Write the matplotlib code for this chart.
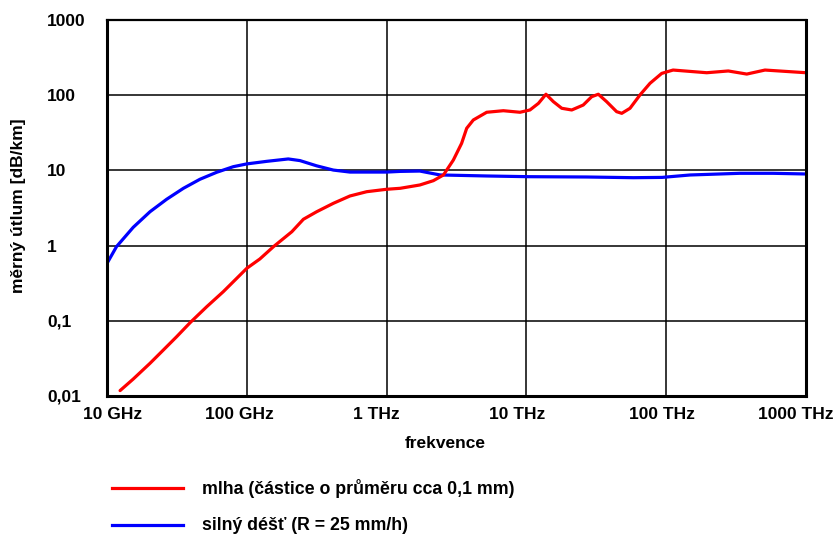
import matplotlib
matplotlib.use('Agg')
import matplotlib.pyplot as plt
import matplotlib.transforms as mtransforms

plt.rcParams['font.family'] = ['Liberation Sans', 'DejaVu Sans']
plt.rcParams['font.weight'] = 'bold'

# mlha (fog) - frequency [Hz], attenuation [dB/km]
fog_f = [1.24e10, 1.54e10, 2.03e10, 2.53e10, 3.15e10, 3.93e10, 5.17e10, 6.79e10, 8.47e10,
         1e11, 1.24e11, 1.55e11, 2.10e11, 2.54e11, 3.16e11, 4.16e11, 5.47e11, 7.21e11,
         1e12, 1.25e12, 1.73e12, 2.16e12, 2.55e12, 3.0e12, 3.44e12, 3.74e12, 4.17e12,
         5.2e12, 6.84e12, 9.0e12, 1.06e13, 1.22e13, 1.38e13, 1.56e13, 1.79e13, 2.11e13,
         2.55e13, 2.93e13, 3.27e13, 3.75e13, 4.42e13, 4.81e13, 5.51e13, 6.5e13, 7.66e13,
         9.29e13, 1.12e14, 1.95e14, 2.78e14, 3.77e14, 5.09e14, 1e15]
fog_a = [0.0118, 0.0168, 0.0272, 0.0409, 0.0615, 0.0944, 0.154, 0.244, 0.367,
         0.499, 0.664, 0.966, 1.53, 2.24, 2.82, 3.65, 4.57, 5.21,
         5.61, 5.78, 6.40, 7.30, 8.69, 13.7, 22.9, 36.3, 46.8,
         59.3, 62.2, 59.3, 63.6, 78, 103, 82, 67, 63.6,
         74, 95.5, 103, 82, 60.4, 57.4, 67, 101, 144,
         195, 216, 199, 210, 191, 216, 199]

# silný déšť (heavy rain)
rain_f = [1e10, 1.17e10, 1.54e10, 2.03e10, 2.67e10, 3.52e10, 4.62e10, 6.09e10, 8.0e10,
          1e11, 1.39e11, 1.98e11, 2.40e11, 3.16e11, 4.16e11, 5.47e11, 1e12, 1.25e12,
          1.73e12, 2.41e12, 5.2e12, 1.03e13, 2.7e13, 5.82e13, 9.33e13, 1.48e14,
          3.37e14, 5.81e14, 1e15]
rain_a = [0.58, 0.97, 1.75, 2.82, 4.13, 5.78, 7.62, 9.44, 11.2,
          12.2, 13.2, 14.2, 13.5, 11.5, 10.1, 9.5, 9.5, 9.7,
          9.8, 8.7, 8.43, 8.25, 8.17, 8.0, 8.07, 8.69,
          9.15, 9.15, 8.96]

x_ticks = [1e10, 1e11, 1e12, 1e13, 1e14, 1e15]
x_labels = ['10 GHz', '100 GHz', '1 THz', '10 THz', '100 THz', '1000 THz']
y_ticks = [0.01, 0.1, 1, 10, 100, 1000]
y_labels = ['0,01', '0,1', '1', '10', '100', '1000']

fig = plt.figure(figsize=(8.37, 5.34), dpi=100)
ax = fig.add_axes([107 / 837, 1 - 396 / 534, 699 / 837, 376 / 534])

ax.plot(rain_f, rain_a, color='#0000ff', lw=2.3, solid_capstyle='round', solid_joinstyle='round')
ax.plot(fog_f, fog_a, color='#ff0000', lw=2.3, solid_capstyle='round', solid_joinstyle='round')

ax.set_xscale('log')
ax.set_yscale('log')
ax.set_xlim(1e10, 1e15)
ax.set_ylim(0.01, 1000)
ax.set_xticks(x_ticks)
ax.set_xticklabels(x_labels)
ax.set_yticks(y_ticks)
ax.set_yticklabels(y_labels)
ax.minorticks_off()
ax.tick_params(axis='both', length=0, labelsize=12.5)
ax.tick_params(axis='x', pad=8)
ax.tick_params(axis='y', pad=43)
for lab in ax.get_yticklabels():
    lab.set_horizontalalignment('left')
# x labels in the original sit a bit off the grid lines
shifts = [6, -7, -10, -9, -4, -10]
for lab, dx in zip(ax.get_xticklabels(), shifts):
    lab.set_transform(lab.get_transform() + mtransforms.ScaledTranslation(dx / 100, 0, fig.dpi_scale_trans))
ax.grid(True, color='black', lw=1.1)
ax.set_axisbelow(True)
for s in ax.spines.values():
    s.set_linewidth(2.2)
ax.spines['top'].set_linewidth(1.6)

fig.text(445 / 837, 1 - 443 / 534, 'frekvence', ha='center', va='center', fontsize=12.5)
fig.text(19 / 837, 1 - 206 / 534, 'měrný útlum [dB/km]', rotation=90,
         ha='center', va='center', fontsize=12.5)

# legend drawn below the plot
fig.add_artist(plt.Line2D([112 / 837, 183 / 837], [1 - 488 / 534] * 2, color='#ff0000', lw=2.3))
fig.text(202 / 837, 1 - 489 / 534, 'mlha (částice o průměru cca 0,1 mm)', va='center', fontsize=12.8)
fig.add_artist(plt.Line2D([112 / 837, 183 / 837], [1 - 525 / 534] * 2, color='#0000ff', lw=2.3))
fig.text(202 / 837, 1 - 525 / 534, 'silný déšť (R = 25 mm/h)', va='center', fontsize=12.8)

fig.savefig('out.png', dpi=100)
